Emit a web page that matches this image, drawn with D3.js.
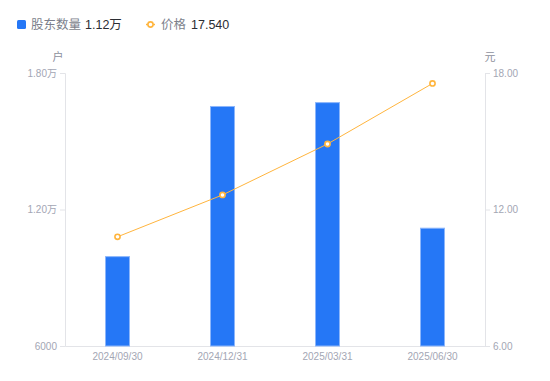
<!DOCTYPE html>
<html>
<head>
<meta charset="utf-8">
<script src="https://cdn.jsdelivr.net/npm/d3@7"></script>
<style>
  body { margin: 0; background: #fff; }
  svg text { font-family: "Liberation Sans", "Noto Sans CJK SC", sans-serif; }
</style>
</head>
<body>
<div id="chart"></div>
<script>
// Data
const dates = ["2024/09/30", "2024/12/31", "2025/03/31", "2025/06/30"];
const holders = [9950, 16550, 16720, 11200];
const prices = [10.80, 12.64, 14.88, 17.54];
const leftTicks = [6000, 12000, 18000];
const rightTicks = [6, 12, 18];

const width = 550, height = 381;
const margin = { top: 73, right: 65, bottom: 35, left: 65 };
const barColor = "#2577f6";
const lineColor = "#ffb53e";
const axisText = "#a3a6b4";

const svg = d3.select("#chart").append("svg").attr("width", width).attr("height", height);

const x = d3.scaleBand().domain(dates).range([margin.left, width - margin.right]);
const yL = d3.scaleLinear().domain([6000, 18000]).range([height - margin.bottom, margin.top]);
const yR = d3.scaleLinear().domain([6, 18]).range([height - margin.bottom, margin.top]);

const fmtLeft = v => v >= 10000 ? (v / 10000).toFixed(2) + "万" : String(v);

// Axes
const axisL = svg.append("g")
  .attr("transform", `translate(${margin.left},0)`)
  .call(d3.axisLeft(yL).tickValues(leftTicks).tickFormat(fmtLeft).tickSize(5).tickPadding(3));
const axisR = svg.append("g")
  .attr("transform", `translate(${width - margin.right},0)`)
  .call(d3.axisRight(yR).tickValues(rightTicks).tickFormat(d3.format(".2f")).tickSize(5).tickPadding(3));
const axisB = svg.append("g")
  .attr("transform", `translate(0,${height - margin.bottom})`)
  .call(d3.axisBottom(x).tickSize(0).tickPadding(7));

[axisL, axisR, axisB].forEach(a => {
  a.select(".domain").attr("stroke", "#e3e4e8");
  a.selectAll(".tick line").attr("stroke", "#e3e4e8");
  a.selectAll(".tick text").attr("fill", axisText).attr("font-size", 10);
});

// Unit labels
svg.append("text").attr("x", 58).attr("y", 61).attr("text-anchor", "middle")
  .attr("fill", "#8d909c").attr("font-size", 11).text("户");
svg.append("text").attr("x", 490).attr("y", 61).attr("text-anchor", "middle")
  .attr("fill", "#8d909c").attr("font-size", 11).text("元");

// Bars
const barW = 25;
svg.append("g").selectAll("rect")
  .data(dates)
  .join("rect")
  .attr("x", d => x(d) + x.bandwidth() / 2 - barW / 2 + 0.5)
  .attr("y", (d, i) => yL(holders[i]) + 0.5)
  .attr("width", barW - 1)
  .attr("height", (d, i) => yL(6000) - yL(holders[i]) - 0.5)
  .attr("fill", barColor)
  .attr("stroke", "#8cb6fb")
  .attr("stroke-width", 1);

// Price line
const line = d3.line()
  .x((d, i) => x(dates[i]) + x.bandwidth() / 2)
  .y(d => yR(d));
svg.append("path")
  .datum(prices)
  .attr("d", line)
  .attr("fill", "none")
  .attr("stroke", lineColor)
  .attr("stroke-width", 1);
svg.append("g").selectAll("circle")
  .data(prices)
  .join("circle")
  .attr("cx", (d, i) => x(dates[i]) + x.bandwidth() / 2)
  .attr("cy", d => yR(d))
  .attr("r", 2.6)
  .attr("fill", "#fff")
  .attr("stroke", lineColor)
  .attr("stroke-width", 1.6);

// Legend
const lg = svg.append("g");
lg.append("rect").attr("x", 17).attr("y", 20).attr("width", 9).attr("height", 9)
  .attr("rx", 1.5).attr("fill", barColor);
lg.append("text").attr("x", 31).attr("y", 29).attr("font-size", 12.5)
  .attr("fill", "#7c7f8c").text("股东数量");
lg.append("text").attr("x", 85).attr("y", 29).attr("font-size", 12.5)
  .attr("fill", "#2b2d33").text(fmtLeft(holders[holders.length - 1]));
lg.append("line").attr("x1", 146).attr("x2", 155).attr("y1", 24.5).attr("y2", 24.5)
  .attr("stroke", lineColor).attr("stroke-width", 1.5);
lg.append("circle").attr("cx", 150.5).attr("cy", 24.5).attr("r", 2.6)
  .attr("fill", "#fff").attr("stroke", lineColor).attr("stroke-width", 1.6);
lg.append("text").attr("x", 161).attr("y", 29).attr("font-size", 12.5)
  .attr("fill", "#7c7f8c").text("价格");
lg.append("text").attr("x", 191).attr("y", 29).attr("font-size", 12.5)
  .attr("fill", "#2b2d33").text(prices[prices.length - 1].toFixed(3));
</script>
</body>
</html>
